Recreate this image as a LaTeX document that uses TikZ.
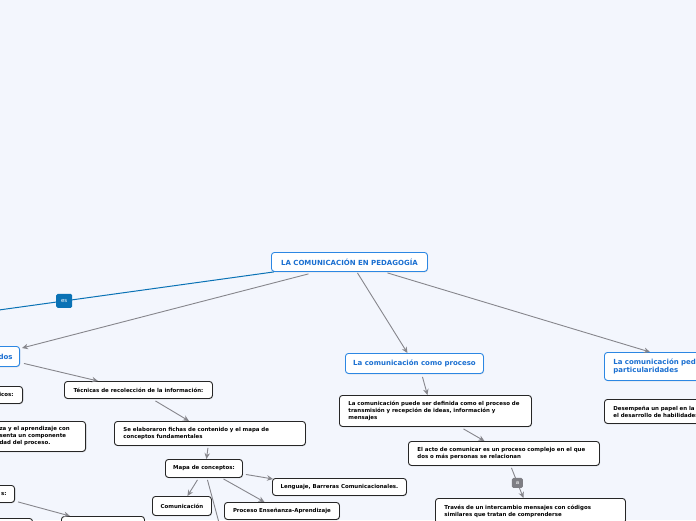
\documentclass[tikz,border=0pt]{standalone}
\usepackage{fontspec}
\setmainfont{DejaVu Sans}
\usetikzlibrary{arrows.meta, positioning, shadows}
\definecolor{canvas}{HTML}{F3F6FD}
\definecolor{topicblue}{HTML}{2C87E3}
\definecolor{topictext}{HTML}{1A6FD1}
\definecolor{esblue}{HTML}{0A72B5}
\definecolor{linkgray}{HTML}{86868C}
\definecolor{labelgray}{HTML}{7E7E84}

\tikzset{
  box/.style={rectangle, rounded corners=3pt, fill=white, inner sep=0pt, line width=0.9pt,
    drop shadow={shadow xshift=0.6pt, shadow yshift=-0.8pt, opacity=0.25}},
  topic/.style={box, draw=topicblue, text=topictext, font=\fontsize{7}{8.5}\selectfont\bfseries},
  idea/.style={box, draw=black!85, text=black, font=\fontsize{5.45}{7}\selectfont\bfseries},
  link/.style={draw=linkgray, line width=0.9pt, -{Stealth[length=6pt,width=5.5pt]}},
  tag/.style={rectangle, rounded corners=1.5pt, text=white, inner sep=0pt,
    font=\fontsize{5.5}{6}\selectfont},
}

\begin{document}
\begin{tikzpicture}[x=1pt, y=-1pt]
  \useasboundingbox[fill=canvas] (0,0) rectangle (696,520);

  % Central topic
  \node[topic, anchor=north west, minimum width=156pt, minimum height=19pt] (root) at (271,252)
    {LA COMUNICACIÓN EN PEDAGOGÍA};

  % Main branches
  \node[topic, anchor=north east, minimum width=60pt, minimum height=20pt,
    text width=46pt, align=right] (metodos) at (20,346) {dos};
  \node[topic, anchor=north west, minimum width=138pt, minimum height=20pt] (proceso) at (345,353)
    {La comunicación como proceso};
  \node[topic, anchor=north west, minimum width=136pt, minimum height=28pt,
    text width=118pt, align=left] (partic) at (604,352)
    {La comunicación peda\\particularidades};

  % Left branch
  \node[idea, anchor=north west, minimum width=148pt, minimum height=17pt] (tecnicas) at (64,381)
    {Técnicas de recolección de la información:};
  \node[idea, anchor=north east, minimum width=60pt, minimum height=17pt,
    text width=42pt, align=right] (empiricos) at (23,386) {icos:};
  \node[idea, anchor=north east, minimum width=95pt, minimum height=30pt,
    text width=77pt, align=left] (ensenanza) at (86,421)
    {za y el aprendizaje con\\senta un componente\\dad del proceso.};
  \node[idea, anchor=north east, minimum width=50pt, minimum height=17pt,
    text width=34pt, align=right] (teoricos) at (15,485) {s:};
  \node[idea, anchor=north east, minimum width=60pt, minimum height=22pt] (botleft) at (33,518) {};
  \node[idea, anchor=north west, minimum width=83pt, minimum height=24pt] (botmid) at (61,516) {};

  \node[idea, anchor=north west, minimum width=191pt, minimum height=24pt,
    text width=173pt, align=left] (fichas) at (114,421)
    {Se elaboraron fichas de contenido y el mapa de\\conceptos fundamentales};
  \node[idea, anchor=north west, minimum width=77pt, minimum height=18pt] (mapa) at (165,459)
    {Mapa de conceptos:};
  \node[idea, anchor=north west, minimum width=134pt, minimum height=17pt] (lenguaje) at (272,478)
    {Lenguaje, Barreras Comunicacionales.};
  \node[idea, anchor=north west, minimum width=59pt, minimum height=19pt] (comunic) at (152,496)
    {Comunicación};
  \node[idea, anchor=north west, minimum width=115pt, minimum height=17pt] (ensapr) at (224,502)
    {Proceso Enseñanza-Aprendizaje};
  \coordinate (mapaout) at (225,545);

  % Process branch
  \node[idea, anchor=north west, minimum width=192pt, minimum height=31pt,
    text width=174pt, align=left] (definida) at (339,395)
    {La comunicación puede ser definida como el proceso de\\transmisión y recepción de ideas, información y\\mensajes};
  \node[idea, anchor=north west, minimum width=191pt, minimum height=24pt,
    text width=173pt, align=left] (acto) at (408,441)
    {El acto de comunicar es un proceso complejo en el que\\dos o más personas se relacionan};
  \node[idea, anchor=north west, minimum width=190pt, minimum height=25pt,
    text width=172pt, align=left] (traves) at (435,498)
    {Través de un intercambio mensajes con códigos\\similares que tratan de comprenderse};

  % Right branch
  \node[idea, anchor=north west, minimum width=156pt, minimum height=24pt,
    text width=138pt, align=left] (papel) at (604,399)
    {Desempeña un papel en la\\el desarrollo de habilidades};

  % Connectors from the central topic
  \coordinate (esout) at (-30,314);
  \draw[esblue, line width=1pt] ([xshift=3pt]root.south west) -- (esout)
    node[tag, pos=0.69, fill=esblue, minimum width=16pt, minimum height=14pt] (es) {es};
  \draw[link] ([xshift=-41pt,yshift=-2pt]root.south) -- ([xshift=2pt,yshift=-2pt]metodos.north east);
  \draw[link] ([xshift=8pt,yshift=-1pt]root.south) -- ([xshift=-7pt]proceso.north);
  \draw[link] ([xshift=38pt,yshift=-1pt]root.south) -- ([xshift=46pt]partic.north west);

  % Left branch connectors
  \draw[link] ([xshift=4pt,yshift=-7pt]metodos.east) -- ([xshift=34pt]tecnicas.north west);
  \draw[link] ([xshift=17pt,yshift=-2pt]tecnicas.south) -- ([xshift=75pt]fichas.north west);
  \draw[link] ([xshift=-2pt,yshift=-2pt]fichas.south) -- ([xshift=2.5pt]mapa.north);
  \draw[link] ([xshift=3pt,yshift=-6pt]mapa.east) -- ([xshift=1pt,yshift=-1pt]lenguaje.north west);
  \draw[link] ([xshift=-6.5pt,yshift=-2pt]mapa.south) -- ([xshift=5.5pt]comunic.north);
  \draw[link] ([xshift=19.5pt,yshift=-1pt]mapa.south) -- ([xshift=-17.5pt]ensapr.north);
  \draw[link] ([xshift=3.5pt,yshift=-2pt]mapa.south) -- (mapaout);
  \draw[link] ([xshift=3pt,yshift=1pt]teoricos.south east) -- ([xshift=9pt]botmid.north west);

  % Process branch connectors
  \draw[link] ([xshift=8pt,yshift=-3pt]proceso.south) -- ([xshift=-8pt]definida.north);
  \draw[link] ([xshift=28pt,yshift=-2pt]definida.south) -- ([xshift=-19.5pt]acto.north);
  \draw[link] ([xshift=7.5pt,yshift=-2pt]acto.south) -- ([xshift=-7pt]traves.north)
    node[tag, pos=0.5, fill=labelgray, minimum width=11pt, minimum height=10pt] (a) {a};
\end{tikzpicture}
\end{document}
